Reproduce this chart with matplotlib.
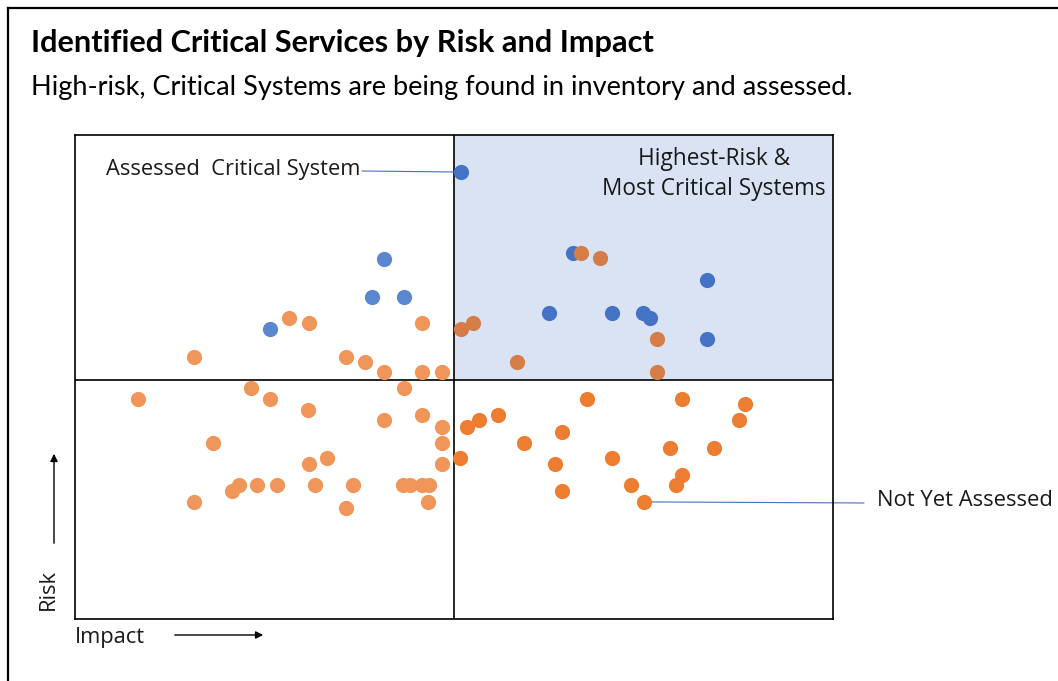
import matplotlib
matplotlib.use("Agg")
import matplotlib.pyplot as plt
from matplotlib.lines import Line2D
from matplotlib.patches import Rectangle, FancyArrowPatch

# ---------------- data (Impact, Risk) ----------------
# Assessed critical systems, lower-impact side
blue_left_impact = [4.08, 3.92, 4.34, 2.57]
blue_left_risk = [7.53, 6.74, 6.74, 6.07]

# Assessed critical systems, higher-impact side
blue_right_impact = [5.09, 6.57, 6.25, 7.08, 7.49, 7.59, 8.34, 8.34]
blue_right_risk = [9.35, 7.66, 6.40, 6.40, 6.40, 6.30, 7.09, 5.86]

# Not yet assessed, high-risk & high-impact quadrant
orange_hh_impact = [6.68, 6.93, 5.09, 5.25, 5.83, 7.68, 7.68]
orange_hh_risk = [7.66, 7.55, 6.07, 6.19, 5.38, 5.86, 5.17]

# Not yet assessed, lower-impact side
orange_left_impact = [1.57, 2.82, 3.09, 3.58, 3.83, 4.08, 4.58, 4.58, 4.84,
                      0.83, 2.32, 2.57, 3.07, 4.08, 4.34, 4.58, 4.84, 4.84,
                      4.84, 1.82, 3.09, 3.32, 1.57, 2.07, 2.16, 2.40, 2.66,
                      3.17, 3.67, 3.58, 4.33, 4.42, 4.58, 4.67, 4.66]
orange_left_risk = [5.48, 6.30, 6.19, 5.48, 5.38, 5.17, 6.19, 5.17, 5.17,
                    4.60, 4.83, 4.60, 4.37, 4.16, 4.83, 4.27, 4.02, 3.68,
                    3.24, 3.68, 3.24, 3.37, 2.45, 2.68, 2.80, 2.80, 2.80,
                    2.80, 2.80, 2.32, 2.80, 2.80, 2.80, 2.80, 2.45]

# Not yet assessed, higher-impact / lower-risk quadrant
orange_lr_impact = [5.08, 5.17, 5.33, 5.58, 5.92, 6.42, 6.33, 6.42, 6.75,
                    7.08, 7.34, 7.51, 7.85, 8.01, 8.01, 7.93, 8.43, 8.76, 8.84]
orange_lr_risk = [3.37, 4.02, 4.16, 4.27, 3.68, 3.91, 3.24, 2.68, 4.60,
                  3.37, 2.80, 2.45, 3.58, 4.60, 3.01, 2.80, 3.58, 4.16, 4.50]

mid_impact = 5.0
mid_risk = 5.0

title = "Identified Critical Services by Risk and Impact"
subtitle = "High-risk, Critical Systems are being found in inventory and assessed."
label_assessed = "Assessed  Critical System"
label_quadrant = "Highest-Risk &\nMost Critical Systems"
label_not_assessed = "Not Yet Assessed"

# ---------------- figure ----------------
W, H = 1058, 681
fig = plt.figure(figsize=(W / 100, H / 100), dpi=100)
fig.patch.set_facecolor("white")


def fx(px):
    return px / W


def fy(py):
    return 1 - py / H


ax = fig.add_axes([fx(75), fy(619), (833 - 75) / W, (619 - 135) / H])
ax.set_xlim(0, 10)
ax.set_ylim(0, 10.125)
ax.set_xticks([])
ax.set_yticks([])
for s in ax.spines.values():
    s.set_linewidth(1.2)
    s.set_color("black")

# highlighted quadrant
ax.add_patch(Rectangle((mid_impact, mid_risk), 10 - mid_impact, 10.125 - mid_risk,
                       facecolor="#DAE3F3", edgecolor="none", zorder=0))
ax.axvline(mid_impact, color="black", lw=1.2, zorder=1)
ax.axhline(mid_risk, color="black", lw=1.2, zorder=1)

ms = 120
ax.scatter(blue_left_impact, blue_left_risk, s=ms, color="#5B87CF", lw=0, zorder=3)
ax.scatter(blue_right_impact, blue_right_risk, s=ms, color="#4472C4", lw=0, zorder=3)
ax.scatter(orange_left_impact, orange_left_risk, s=ms, color="#F0965A", lw=0, zorder=4)
ax.scatter(orange_hh_impact, orange_hh_risk, s=ms, color="#D57D48", lw=0, zorder=4)
ax.scatter(orange_lr_impact, orange_lr_risk, s=ms, color="#ED7D31", lw=0, zorder=4)

renderer = fig.canvas.get_renderer()


def fit_width(t, target):
    w = t.get_window_extent(renderer).width
    t.set_fontsize(t.get_fontsize() * target / w)


# titles
t1 = fig.text(fx(31), fy(43), title, ha="left", va="center",
              fontfamily="Lato", fontweight="bold", fontsize=20, color="black")
fit_width(t1, 624)
t2 = fig.text(fx(31), fy(87), subtitle, ha="left", va="center",
              fontfamily="Lato", fontsize=18, color="black")
fit_width(t2, 820)

lab_kw = dict(fontfamily="Open Sans", fontsize=13, color="#1a1a1a")

# quadrant label
t3 = fig.text(fx(714), fy(174), label_quadrant, ha="center", va="center",
              multialignment="center", linespacing=1.3, **lab_kw)
fit_width(t3, 223)

# callout labels
ta = fig.text(fx(360), fy(170), label_assessed, ha="right", va="center", **lab_kw)
fit_width(ta, 253)
tn = fig.text(fx(877), fy(501), label_not_assessed, ha="left", va="center", **lab_kw)
fit_width(tn, 174)

# leader lines
ax.annotate("", xy=(blue_right_impact[0], blue_right_risk[0]),
            xytext=(362, H - 171), textcoords="figure pixels", zorder=2,
            arrowprops=dict(arrowstyle="-", color="#4472C4", lw=0.8,
                            shrinkA=0, shrinkB=0))
ax.annotate("", xy=(orange_lr_impact[11], orange_lr_risk[11]),
            xytext=(864, H - 503), textcoords="figure pixels", zorder=2,
            annotation_clip=False,
            arrowprops=dict(arrowstyle="-", color="#4472C4", lw=0.8,
                            shrinkA=0, shrinkB=0))

# axis labels with arrows
ti = fig.text(fx(75), fy(638), "Impact", ha="left", va="center", **lab_kw)
fit_width(ti, 70)
tr = fig.text(fx(48), fy(590), "Risk", ha="center", va="center", rotation=90,
              **lab_kw)
tr.set_fontsize(ti.get_fontsize())

fig.add_artist(FancyArrowPatch(
    (fx(172), fy(635)), (fx(266), fy(635)), transform=fig.transFigure,
    arrowstyle="-|>", mutation_scale=11, color="black", lw=1.0))
fig.add_artist(FancyArrowPatch(
    (fx(54), fy(546)), (fx(54), fy(451)), transform=fig.transFigure,
    arrowstyle="-|>", mutation_scale=11, color="black", lw=1.0))

# outer frame (top and left edges visible)
fig.add_artist(Line2D([fx(8), 1.01], [fy(8), fy(8)], transform=fig.transFigure,
                      color="black", lw=1.6))
fig.add_artist(Line2D([fx(8), fx(8)], [fy(8), -0.01], transform=fig.transFigure,
                      color="black", lw=1.6))

fig.savefig("out.png", dpi=100)
